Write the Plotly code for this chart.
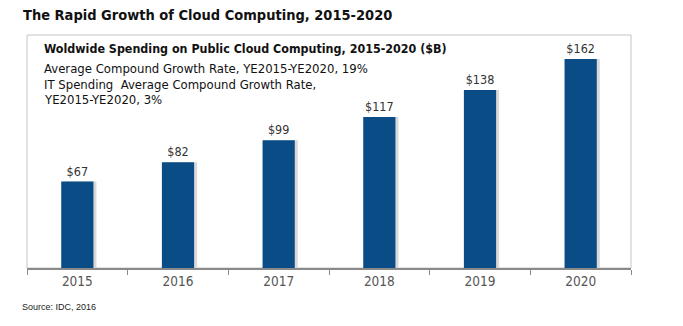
import plotly.graph_objects as go

years = ["2015", "2016", "2017", "2018", "2019", "2020"]
spending = [67, 82, 99, 117, 138, 162]
value_labels = ["$67", "$82", "$99", "$117", "$138", "$162"]

title = "The Rapid Growth of Cloud Computing, 2015-2020"
subtitle = "Woldwide Spending on Public Cloud Computing, 2015-2020 ($B)"
notes = [
    "Average Compound Growth Rate, YE2015-YE2020, 19%",
    "IT Spending  Average Compound Growth Rate,",
    "YE2015-YE2020, 3%",
]
source = "Source: IDC, 2016"

W, H = 683, 326
L, R, T, B = 27, 52, 35, 58
PW, PH = W - L - R, H - T - B

def px(x):
    return (x - L) / PW

def py(y):
    return (H - B - y) / PH

BAR = "#0A4C85"
FONT = "DejaVu Sans Condensed, DejaVu Sans, sans-serif"

fig = go.Figure()
# soft drop shadow on the right side of each bar
fig.add_trace(go.Bar(
    x=years, y=spending, width=0.32, offset=-0.16 + 0.03,
    marker=dict(color="#d9d9d9", line=dict(width=0)),
    hoverinfo="skip", showlegend=False,
))
fig.add_trace(go.Bar(
    x=years, y=spending, width=0.32, offset=-0.16,
    marker=dict(color=BAR, line=dict(width=0)),
    text=value_labels, textposition="outside", cliponaxis=False,
    textfont=dict(family=FONT, size=12.5, color="#333333"),
    showlegend=False,
))

annotations = [
    dict(text=f"<b>{title}</b>", x=px(21), y=py(15), xanchor="left", yanchor="middle",
         font=dict(family=FONT, size=14.5, color="#111111")),
    dict(text=f"<b>{subtitle}</b>", x=px(42), y=py(48), xanchor="left", yanchor="middle",
         font=dict(family=FONT, size=12.4, color="#111111")),
    dict(text=source, x=px(20), y=py(307), xanchor="left", yanchor="middle",
         font=dict(family="Liberation Sans, Arial, sans-serif", size=9, color="#222222")),
]
for i, line in enumerate(notes):
    annotations.append(dict(text=line, x=px(42), y=py(69 + 15 * i), xanchor="left",
                            yanchor="middle",
                            font=dict(family=FONT, size=13, color="#111111")))
for a in annotations:
    a.update(xref="paper", yref="paper", showarrow=False)

fig.update_layout(
    width=W, height=H,
    margin=dict(l=L, r=R, t=T, b=B, pad=0),
    paper_bgcolor="white", plot_bgcolor="white",
    barmode="overlay",
    annotations=annotations,
    shapes=[dict(type="rect", xref="paper", yref="paper", x0=0, x1=1, y0=0, y1=1,
                 line=dict(color="#c4c4c4", width=1), layer="below")],
    xaxis=dict(
        type="category", showgrid=False, showline=True, linecolor="#8a8a8a", linewidth=1.5,
        ticks="outside", tickson="boundaries", ticklen=5, tickcolor="#8a8a8a",
        tickfont=dict(family=FONT, size=13.5, color="#555555"),
        range=[-0.5, 5.5],
    ),
    yaxis=dict(range=[0, 180.6], visible=False),
)

fig.write_html("out.html")
